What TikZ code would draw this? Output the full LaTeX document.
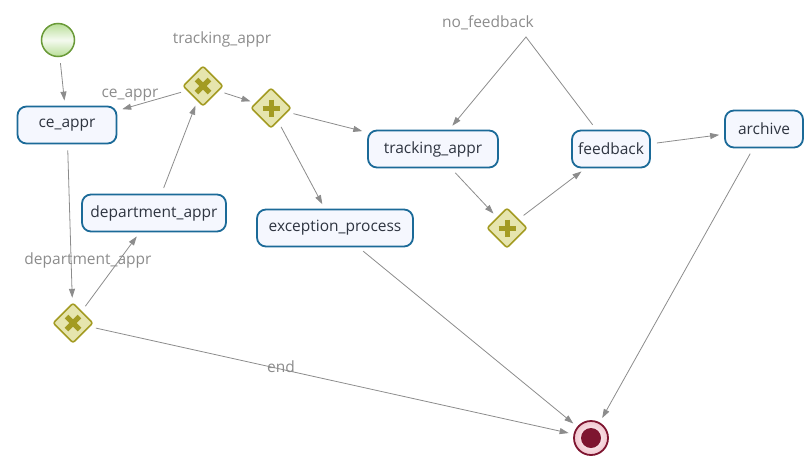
\documentclass[tikz,border=0pt]{standalone}
\usepackage{fontspec}
\setmainfont{Open Sans}
\usetikzlibrary{arrows.meta,positioning,shapes.geometric}

\definecolor{taskblue}{HTML}{1B6A98}
\definecolor{taskfill}{HTML}{F5F7FE}
\definecolor{textdark}{HTML}{2E3440}
\definecolor{flowgray}{HTML}{8C8C8C}
\definecolor{gateolive}{HTML}{A39B22}
\definecolor{gatefill}{HTML}{E6E5AE}
\definecolor{startgreen}{HTML}{B9DE98}
\definecolor{startline}{HTML}{6A9A38}
\definecolor{endred}{HTML}{7E1530}
\definecolor{endpink}{HTML}{F2C6CF}

\begin{document}
\begin{tikzpicture}[
    x=1pt, y=-1pt,
    font=\fontsize{15.5}{18}\selectfont,
    task/.style={rectangle, rounded corners=9pt, draw=taskblue, line width=1.8pt,
        fill=taskfill, text=textdark, minimum height=37pt, inner xsep=5pt},
    gate/.style={diamond, aspect=1, draw=gateolive, line width=1.6pt, fill=gatefill,
        rounded corners=2pt, minimum size=40pt, inner sep=0pt},
    xgate/.style={gate, path picture={
        \draw[gateolive, line width=5pt] (path picture bounding box.center) ++(-6.5,-6.5) -- ++(13,13)
            (path picture bounding box.center) ++(-6.5,6.5) -- ++(13,-13);}},
    pgate/.style={gate, path picture={
        \draw[gateolive, line width=5pt] (path picture bounding box.center) ++(-8.5,0) -- ++(17,0)
            (path picture bounding box.center) ++(0,-8.5) -- ++(0,17);}},
    startev/.style={circle, draw=startline, line width=1.5pt, minimum size=33pt, inner sep=0pt,
        top color=startgreen, bottom color=startgreen, middle color=white!85!startgreen},
    endev/.style={circle, draw=endred, line width=1.8pt, minimum size=34pt, inner sep=0pt,
        inner color=white, outer color=endpink, path picture={
        \fill[endred] (path picture bounding box.center) circle (10);}},
    flow/.style={draw=flowgray, line width=0.8pt, -{Triangle[length=9pt,width=6pt]},
        shorten <=6pt, shorten >=5pt},
    lbl/.style={text=flowgray}
]
\useasboundingbox (0,0) rectangle (811,464);

% Events and gateways
\node[startev] (start) at (58,40) {};
\node[endev] (end) at (591,438) {};
\node[xgate] (x1) at (203,86) {};
\node[pgate] (p1) at (271,108) {};
\node[pgate] (p2) at (507,228) {};
\node[xgate] (x2) at (73,323) {};

% Tasks
\node[task, minimum width=99pt] (ce) at (67,125) {ce\_appr};
\node[task, minimum width=144pt] (dept) at (154,213) {department\_appr};
\node[task, minimum width=156pt] (exc) at (335,228) {exception\_process};
\node[task, minimum width=130pt] (track) at (433,149) {tracking\_appr};
\node[task, minimum width=78pt] (fb) at (611,149) {feedback};
\node[task, minimum width=78pt] (arch) at (764,129) {archive};

% Sequence flows
\draw[flow] (start) -- (ce);
\draw[flow] (x1) -- (ce);
\draw[flow] (x1) -- (p1);
\draw[flow] (p1) -- (track);
\draw[flow] (p1) -- (exc);
\draw[flow] (dept) -- (x1);
\draw[flow] (ce) -- (x2);
\draw[flow] (x2) -- (dept);
\draw[flow] (x2) -- (end);
\draw[flow] (exc) -- (end);
\draw[flow] (arch) -- (end);
\draw[flow] (track) -- (p2);
\draw[flow] (p2) -- (fb);
\draw[flow] (fb) -- (arch);
\coordinate (nf) at (526,37);
\draw[flow] (fb) -- (nf) -- (track);

% Flow labels
\node[lbl] (lbltrack) at (222,39) {tracking\_appr};
\node[lbl] (lblce) at (130,95) {ce\_appr};
\node[lbl] (lblnf) at (488,23) {no\_feedback};
\node[lbl] (lbldept) at (88,260) {department\_appr};
\node[lbl] (lblend) at (281,367) {end};

\end{tikzpicture}
\end{document}
